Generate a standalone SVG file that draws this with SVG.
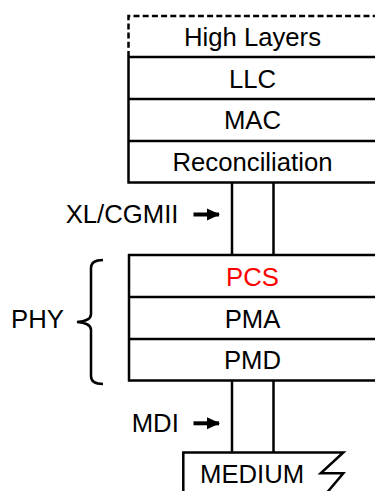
<svg xmlns="http://www.w3.org/2000/svg" width="375" height="491" viewBox="0 0 375 491">
<style>
.ln{stroke:#000;stroke-width:2.5;fill:none}
.dash{stroke:#000;stroke-width:2.5;fill:none;stroke-dasharray:6 3.2}
text{font-family:"Liberation Sans",Arial,sans-serif;font-size:25.7px;fill:#000}
.c{text-anchor:middle}
.red{fill:#ff0000}
.arr{stroke:#000;stroke-width:4;marker-end:url(#ah)}
</style>
<defs>
<marker id="ah" markerUnits="userSpaceOnUse" markerWidth="14" markerHeight="14" refX="12" refY="6.5" orient="auto">
<path d="M0,0.5 L13,6.5 L0,12.5 Z" fill="#000"/>
</marker>
</defs>
<rect width="375" height="491" fill="#fff"/>
<g id="high-layers">
<path class="dash" d="M128.5,57 V16 H377"/>
<text class="c" x="252.5" y="45.7">High Layers</text>
</g>
<g id="llc">
<path class="ln" d="M128.5,57 V99 M128.5,57 H377"/>
<text class="c" x="252.5" y="87.7">LLC</text>
</g>
<g id="mac">
<path class="ln" d="M128.5,99 V141 M128.5,99 H377"/>
<text class="c" x="252.5" y="129.3">MAC</text>
</g>
<g id="reconciliation">
<path class="ln" d="M128.5,141 V182.5 M128.5,141 H377 M127.3,182.5 H377"/>
<text class="c" x="252.5" y="170.7">Reconciliation</text>
</g>
<g id="pcs">
<path class="ln" d="M129,255 V297 M127.8,255 H377"/>
<text class="c red" x="252.5" y="285.7">PCS</text>
</g>
<g id="pma">
<path class="ln" d="M129,297 V339 M129,297 H377"/>
<text class="c" x="252.5" y="327.7">PMA</text>
</g>
<g id="pmd">
<path class="ln" d="M129,339 V380.5 M129,339 H377 M127.8,380.5 H377"/>
<text class="c" x="252.5" y="369">PMD</text>
</g>
<g id="phy">
<path class="ln" d="M103,260 Q91,260 91,268 L91,314 Q91,321 77,322 Q91,323 91,330 L91,376 Q91,384 103,384" stroke-width="2"/>
<text x="11" y="328.3">PHY</text>
</g>
<g id="medium">
<path class="ln" d="M183.3,491 V452.5 H343.3 L320.7,473.3 H343.3 L325,495"/>
<text x="200" y="482.5">MEDIUM</text>
</g>
<g id="xlcgmii-label">
<text x="65.7" y="223.3">XL/CGMII</text>
</g>
<g id="mdi-label">
<text x="131.7" y="432.3">MDI</text>
</g>
<g id="connectors">
<path class="ln" d="M232,182.5 V255 M273.5,182.5 V255"/>
<path class="ln" d="M232,380.5 V452.5 M273.5,380.5 V452.5"/>
<line class="arr" x1="193.5" y1="214.5" x2="219" y2="214.5"/>
<line class="arr" x1="193.5" y1="423.3" x2="219" y2="423.3"/>
</g>
</svg>
